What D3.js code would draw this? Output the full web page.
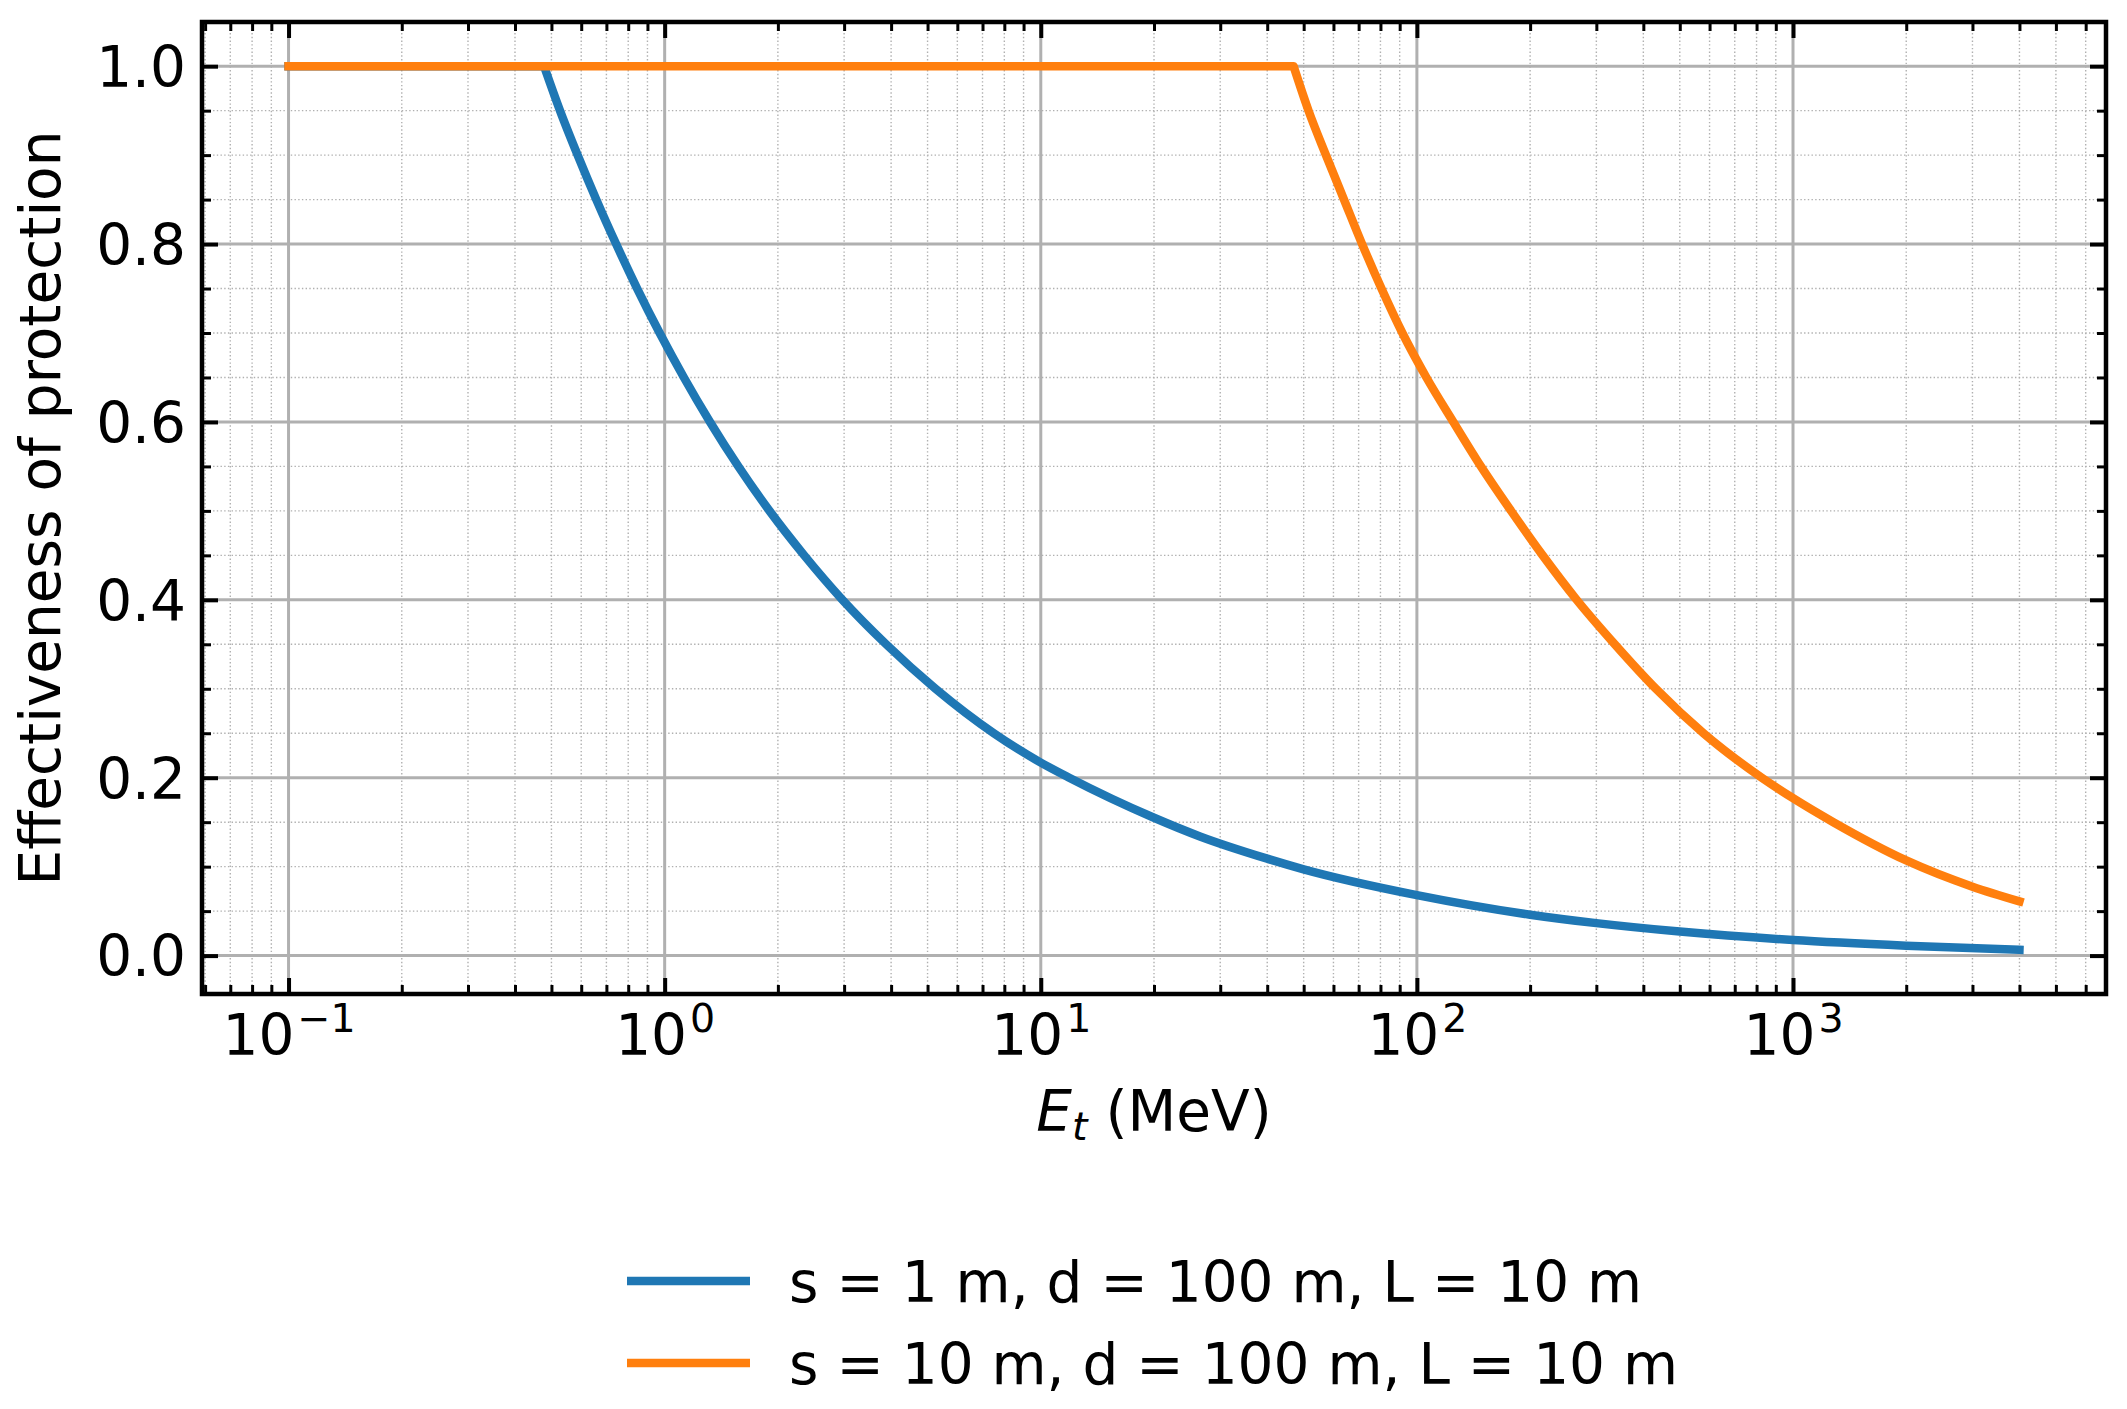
<!DOCTYPE html>
<html>
<head>
<meta charset="utf-8">
<script src="https://cdnjs.cloudflare.com/ajax/libs/d3/7.8.5/d3.min.js"></script>
<style>
    body { margin: 0; background: #fff; }
    svg { display: block; font-family: "DejaVu Sans", sans-serif; }
</style>
</head>
<body>
<div id="chart"></div>
<script>
// values
var energy_s1 = [0.1, 0.478, 0.527, 0.587, 0.658, 0.743, 0.845, 0.97, 1.125, 1.32, 1.57, 1.9, 2.35, 2.97,
    3.88, 5.25, 7.5, 10, 11.9, 20, 26.5, 40, 50, 100, 200, 300, 500, 1000, 2000, 4000];
var eff_s1 = [1, 1, 0.95, 0.9, 0.85, 0.8, 0.75, 0.7, 0.65, 0.6, 0.55, 0.5, 0.45, 0.4,
    0.35, 0.3, 0.25, 0.217, 0.2, 0.155, 0.134, 0.109, 0.097, 0.068, 0.046, 0.0365, 0.027, 0.0175, 0.0112, 0.0065];

var energy_s10 = [0.1, 47, 51.5, 57.3, 64, 71.5, 80.5, 91.5, 106, 125, 148, 178, 216, 266, 336, 432, 578,
    826, 1000, 1280, 2000, 3000, 4000];
var eff_s10 = [1, 1, 0.95, 0.9, 0.85, 0.8, 0.75, 0.7, 0.65, 0.6, 0.55, 0.5, 0.45, 0.4, 0.35, 0.3, 0.25,
    0.2, 0.177, 0.15, 0.107, 0.0775, 0.061];

var series_labels = ["s = 1 m, d = 100 m, L = 10 m", "s = 10 m, d = 100 m, L = 10 m"];
var series_colors = ["#1f77b4", "#ff7f0e"];

var y_ticks = [0, 0.2, 0.4, 0.6, 0.8, 1.0];
var y_tick_labels = ["0.0", "0.2", "0.4", "0.6", "0.8", "1.0"];
var x_ticks = [0.1, 1, 10, 100, 1000];
var x_tick_exponents = ["\u22121", "0", "1", "2", "3"];

var y_label = "Effectiveness of protection";

var width = 2127,
    height = 1409,
    margins = {top: 22, right: 21, bottom: 415, left: 202},
    plot_w = width - margins.left - margins.right,
    plot_h = height - margins.top - margins.bottom,
    font_size = 56.5,
    sup_size = 39.5;

/*
 * Scales, padded 5% like matplotlib autoscale
 */
var all_e = energy_s1.concat(energy_s10),
    lo = Math.log10(d3.min(all_e)),
    hi = Math.log10(d3.max(all_e)),
    pad = (hi - lo) * 0.05;

var x = d3.scaleLog()
    .domain([Math.pow(10, lo - pad), Math.pow(10, hi + pad)])
    .range([0, plot_w]);

var all_eff = eff_s1.concat(eff_s10),
    ylo = d3.min(all_eff),
    yhi = d3.max(all_eff),
    ypad = (yhi - ylo) * 0.05;

var y = d3.scaleLinear()
    .domain([ylo - ypad, yhi + ypad])
    .range([plot_h, 0]);

var x_minor = x.ticks().filter(function(d) {
    return Math.abs(Math.log10(d) - Math.round(Math.log10(d))) > 1e-6;
});
var y_minor = y.ticks(20).filter(function(d) {
    return Math.abs(d * 5 - Math.round(d * 5)) > 1e-6;
});

var svg = d3.select("#chart").append("svg")
    .attr("width", width)
    .attr("height", height);

svg.append("rect")
    .attr("width", width)
    .attr("height", height)
    .attr("fill", "#fff");

var g = svg.append("g")
    .attr("transform", "translate(" + margins.left + "," + margins.top + ")");

/*
 * Grid
 */
var grid = g.append("g").attr("class", "grid");

grid.selectAll(".xminor").data(x_minor).enter().append("line")
    .attr("x1", function(d) { return x(d); })
    .attr("x2", function(d) { return x(d); })
    .attr("y1", 0).attr("y2", plot_h)
    .attr("stroke", "#b0b0b0").attr("stroke-width", 1.4)
    .attr("stroke-dasharray", "1.4,2.3");

grid.selectAll(".yminor").data(y_minor).enter().append("line")
    .attr("x1", 0).attr("x2", plot_w)
    .attr("y1", function(d) { return y(d); })
    .attr("y2", function(d) { return y(d); })
    .attr("stroke", "#b0b0b0").attr("stroke-width", 1.4)
    .attr("stroke-dasharray", "1.4,2.3");

grid.selectAll(".xmajor").data(x_ticks).enter().append("line")
    .attr("x1", function(d) { return x(d); })
    .attr("x2", function(d) { return x(d); })
    .attr("y1", 0).attr("y2", plot_h)
    .attr("stroke", "#b0b0b0").attr("stroke-width", 3);

grid.selectAll(".ymajor").data(y_ticks).enter().append("line")
    .attr("x1", 0).attr("x2", plot_w)
    .attr("y1", function(d) { return y(d); })
    .attr("y2", function(d) { return y(d); })
    .attr("stroke", "#b0b0b0").attr("stroke-width", 3);

/*
 * Curves: straight along the plateau, smooth after the knee
 */
var flat_line = d3.line()
    .x(function(d) { return x(d[0]); })
    .y(function(d) { return y(d[1]); });

var fall_line = d3.line()
    .x(function(d) { return x(d[0]); })
    .y(function(d) { return y(d[1]); })
    .curve(d3.curveMonotoneX);

function curvePath(d) {
    var k = 0;
    d.forEach(function(p, i) { if (p[1] === 1) k = i; });
    var fall = fall_line(d.slice(k));
    return flat_line(d.slice(0, k)) + "L" + fall.slice(1);
}

var series = [d3.zip(energy_s1, eff_s1), d3.zip(energy_s10, eff_s10)];

g.selectAll(".curve").data(series).enter().append("path")
    .attr("class", "curve")
    .attr("d", curvePath)
    .attr("fill", "none")
    .attr("stroke", function(d, i) { return series_colors[i]; })
    .attr("stroke-width", 8.5)
    .attr("stroke-linejoin", "round")
    .attr("stroke-linecap", "square");

/*
 * Ticks, pointing in on all four sides
 */
function styleTicks(sel, w) {
    sel.select(".domain").remove();
    sel.selectAll(".tick line").attr("stroke", "#000").attr("stroke-width", w);
}

g.append("g").attr("transform", "translate(0," + plot_h + ")")
    .call(d3.axisBottom(x).tickValues(x_minor).tickSize(-9).tickFormat(""))
    .call(styleTicks, 3);
g.append("g")
    .call(d3.axisTop(x).tickValues(x_minor).tickSize(-9).tickFormat(""))
    .call(styleTicks, 3);
g.append("g")
    .call(d3.axisLeft(y).tickValues(y_minor).tickSize(-9).tickFormat(""))
    .call(styleTicks, 3);
g.append("g").attr("transform", "translate(" + plot_w + ",0)")
    .call(d3.axisRight(y).tickValues(y_minor).tickSize(-9).tickFormat(""))
    .call(styleTicks, 3);

g.append("g")
    .call(d3.axisTop(x).tickValues(x_ticks).tickSize(-16).tickFormat(""))
    .call(styleTicks, 4);
g.append("g").attr("transform", "translate(" + plot_w + ",0)")
    .call(d3.axisRight(y).tickValues(y_ticks).tickSize(-16).tickFormat(""))
    .call(styleTicks, 4);

var x_axis = g.append("g").attr("transform", "translate(0," + plot_h + ")")
    .call(d3.axisBottom(x).tickValues(x_ticks).tickSize(-16).tickFormat(""))
    .call(styleTicks, 4);

x_axis.selectAll(".tick text").each(function(d, i) {
    var t = d3.select(this)
        .attr("y", 61)
        .attr("dy", null)
        .attr("fill", "#000")
        .attr("font-size", font_size)
        .attr("font-family", "DejaVu Sans")
        .attr("text-anchor", "middle");
    t.append("tspan").text("10");
    t.append("tspan")
        .attr("dx", 3)
        .attr("dy", -23)
        .attr("font-size", sup_size)
        .text(x_tick_exponents[i]);
});

g.append("g")
    .call(d3.axisLeft(y).tickValues(y_ticks).tickSize(-16).tickPadding(16)
        .tickFormat(function(d, i) { return y_tick_labels[i]; }))
    .call(styleTicks, 4)
    .selectAll(".tick text")
    .attr("fill", "#000")
    .attr("font-size", font_size)
    .attr("font-family", "DejaVu Sans")
    .attr("dy", "0.36em");

// frame
g.append("rect")
    .attr("width", plot_w)
    .attr("height", plot_h)
    .attr("fill", "none")
    .attr("stroke", "#000")
    .attr("stroke-width", 4.5);

/*
 * Axis labels
 */
var xl = svg.append("text")
    .attr("x", margins.left + plot_w / 2)
    .attr("y", 1131)
    .attr("text-anchor", "middle")
    .attr("font-size", font_size);
xl.append("tspan").attr("font-style", "italic").text("E");
xl.append("tspan").attr("font-style", "italic").attr("font-size", sup_size).attr("dy", 9).text("t");
xl.append("tspan").attr("dy", -9).text(" (MeV)");

svg.append("text")
    .attr("transform", "translate(60," + (margins.top + plot_h / 2) + ") rotate(-90)")
    .attr("text-anchor", "middle")
    .attr("font-size", font_size)
    .text(y_label);

/*
 * Legend
 */
var legend = svg.append("g").attr("class", "legend");

legend.selectAll("g").data(series_labels).enter().append("g")
    .each(function(d, k) {
        var lg = d3.select(this),
            ly = 1281 + k * 82;

        lg.append("line")
            .attr("x1", 627).attr("x2", 750)
            .attr("y1", ly).attr("y2", ly)
            .attr("stroke", series_colors[k])
            .attr("stroke-width", 8.5);

        lg.append("text")
            .attr("x", 789)
            .attr("y", ly + 21)
            .attr("font-size", font_size)
            .text(d);
    });
</script>
</body>
</html>
